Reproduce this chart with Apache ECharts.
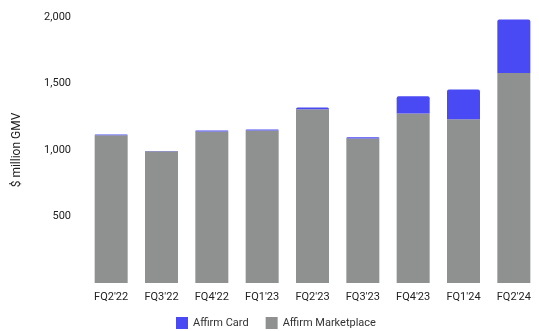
<!DOCTYPE html>
<html>
<head>
<meta charset="utf-8">
<script src="https://cdn.jsdelivr.net/npm/echarts@6/dist/echarts.min.js"></script>
<style>
html, body { margin: 0; padding: 0; background: #fff; }
#echart { width: 539px; height: 331px; }
</style>
</head>
<body>
<div id="echart"></div>
<script>
var quarters = ["FQ2'22", "FQ3'22", "FQ4'22", "FQ1'23", "FQ2'23", "FQ3'23", "FQ4'23", "FQ1'24", "FQ2'24"];
var marketplace = [1110, 990, 1140, 1147, 1306, 1087, 1274, 1231, 1579];
var card = [6, 2, 6, 7, 13, 9, 130, 223, 403];
var yTicks = [500, 1000, 1500, 2000];

var myChart = echarts.init(document.getElementById('echart'));
var option = {
    animation: false,
    textStyle: { fontFamily: 'Roboto' },
    legend: {
        data: ['Affirm Card', 'Affirm Marketplace'],
        bottom: -3,
        left: 171,
        itemWidth: 12,
        itemHeight: 12,
        itemGap: 17,
        textStyle: { fontSize: 11, color: '#333' },
        icon: 'rect'
    },
    grid: { left: 86, right: -6, top: 17, bottom: 48 },
    xAxis: {
        type: 'category',
        data: quarters,
        axisLine: { show: false },
        axisTick: { show: false },
        axisLabel: { fontSize: 11, color: '#222', margin: 9 }
    },
    yAxis: {
        type: 'value',
        min: 0,
        max: 2000,
        interval: 500,
        name: '$ million GMV',
        nameLocation: 'middle',
        nameGap: 63,
        nameTextStyle: { fontSize: 12, color: '#222' },
        splitLine: { show: false },
        axisLine: { show: false },
        axisTick: { show: false },
        axisLabel: {
            fontSize: 11,
            color: '#222',
            margin: 15,
            formatter: function (v) {
                return yTicks.indexOf(v) >= 0 ? v.toLocaleString('en-US') : '';
            }
        }
    },
    series: [
        {
            name: 'Affirm Marketplace',
            type: 'bar',
            stack: 'gmv',
            barWidth: 33,
            data: marketplace,
            itemStyle: { color: '#8f9090' }
        },
        {
            name: 'Affirm Card',
            type: 'bar',
            stack: 'gmv',
            barWidth: 33,
            data: card,
            itemStyle: { color: '#4a4af4', borderRadius: [2, 2, 0, 0] }
        }
    ]
};
myChart.setOption(option);
window.onresize = myChart.resize;
</script>
</body>
</html>
